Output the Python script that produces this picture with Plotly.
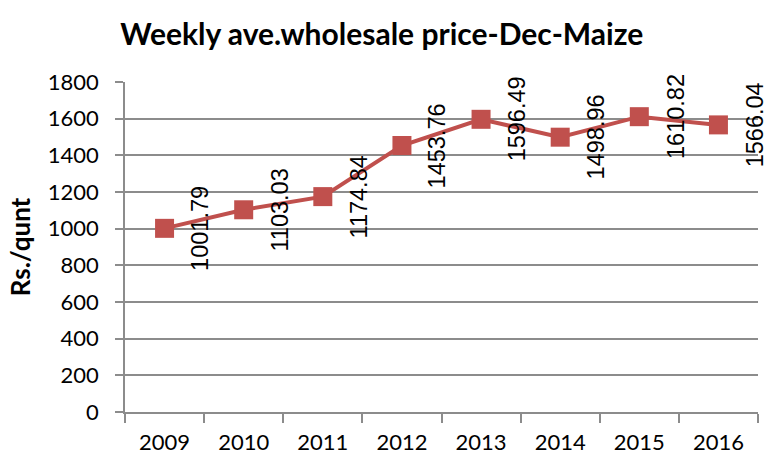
import plotly.graph_objects as go

years = ["2009", "2010", "2011", "2012", "2013", "2014", "2015", "2016"]
prices = [1001.79, 1103.03, 1174.84, 1453.76, 1596.49, 1498.96, 1610.82, 1566.04]
price_labels = ["1001.79", "1103.03", "1174.84", "1453.76", "1596.49", "1498.96", "1610.82", "1566.04"]
y_ticks = [0, 200, 400, 600, 800, 1000, 1200, 1400, 1600, 1800]

red = "#C0504D"
grid = "#8C8C8C"

fig = go.Figure()
fig.add_trace(go.Scatter(
    x=years, y=prices, mode="lines+markers",
    line=dict(color=red, width=4),
    marker=dict(symbol="square", size=19, color=red),
    hoverinfo="skip", showlegend=False,
))

for i, (p, lab) in enumerate(zip(prices, price_labels)):
    fig.add_annotation(
        x=i, y=p, xref="x", yref="y", text=lab, textangle=-90,
        showarrow=False, xshift=36,
        font=dict(family="Liberation Sans, Arial", size=23.5, color="#000000"),
    )

fig.update_layout(
    width=768, height=457,
    margin=dict(l=125, r=10, t=82, b=45),
    paper_bgcolor="white", plot_bgcolor="white",
    title=dict(
        text="<b>Weekly ave.wholesale price-Dec-Maize</b>",
        x=0.497, xanchor="center", y=0.925, yanchor="middle",
        font=dict(family="Lato", size=30, color="#000000"),
    ),
    font=dict(family="Lato", size=22, color="#000000"),
)
fig.update_xaxes(
    type="category", range=[-0.5, 7.5], automargin=False,
    showline=True, linecolor=grid, linewidth=1.5,
    ticks="outside", tickson="boundaries", ticklen=9, tickcolor=grid, tickwidth=1.5,
    ticklabelstandoff=10,
    showgrid=False, tickfont=dict(family="Lato", size=22, color="#000000"),
    fixedrange=True,
)
fig.update_yaxes(
    range=[0, 1800], tickvals=y_ticks, ticktext=[str(v) for v in y_ticks],
    automargin=False,
    showline=True, linecolor=grid, linewidth=1.5,
    ticks="outside", ticklen=8, tickcolor=grid, tickwidth=1.5,
    ticklabelstandoff=12,
    showgrid=True, gridcolor=grid, gridwidth=1.5, zeroline=False,
    tickfont=dict(family="Lato", size=22, color="#000000"),
    title=dict(text="<b>Rs./qunt</b>", font=dict(family="Lato", size=26, color="#000000"), standoff=10),
    fixedrange=True,
)

fig.write_html("out.html", post_script="document.body.style.margin='0';",
               config={"displayModeBar": False})
